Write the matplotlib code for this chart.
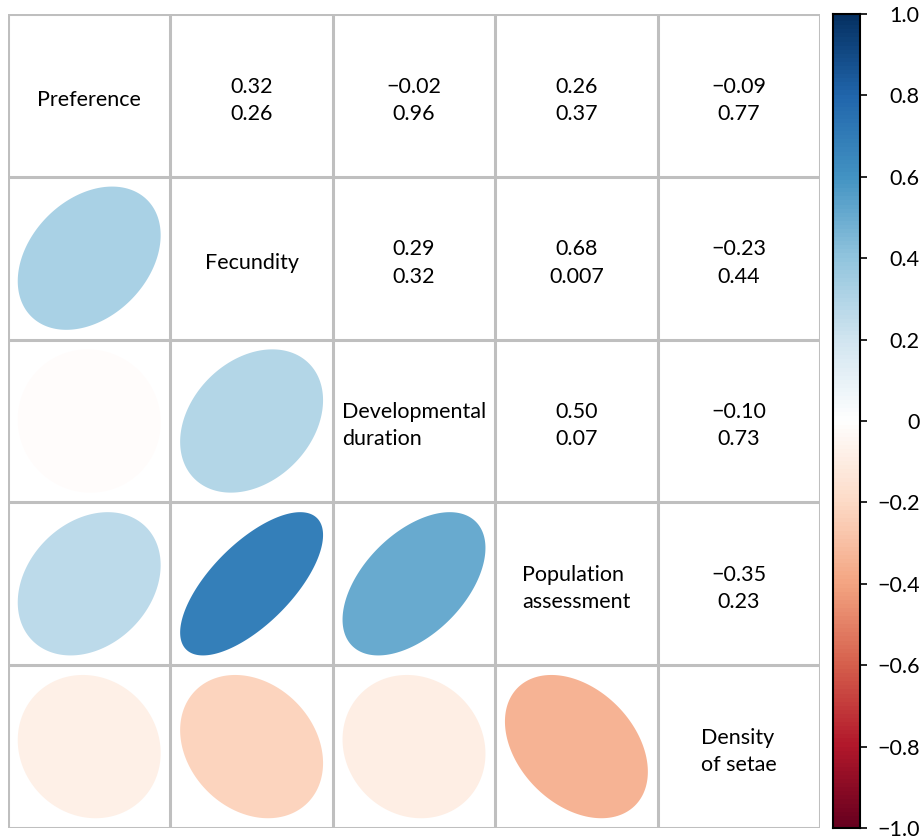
import numpy as np
import matplotlib
matplotlib.use("Agg")
import matplotlib.pyplot as plt
from matplotlib.patches import Polygon
from matplotlib.colors import Normalize, LinearSegmentedColormap

plt.rcParams['font.family'] = ['Lato', 'DejaVu Sans']

variables = ["Preference", "Fecundity", "Developmental\nduration",
             "Population\nassessment", "Density\nof setae"]

# correlation coefficients (upper triangle, row-major pairs)
pairs = [(0, 1), (0, 2), (0, 3), (0, 4), (1, 2), (1, 3), (1, 4), (2, 3), (2, 4), (3, 4)]
r_values = [0.32, -0.02, 0.26, -0.09, 0.29, 0.68, -0.23, 0.50, -0.10, -0.35]
r_labels = ["0.32", "\u22120.02", "0.26", "\u22120.09", "0.29", "0.68", "\u22120.23",
            "0.50", "\u22120.10", "\u22120.35"]
p_labels = ["0.26", "0.96", "0.37", "0.77", "0.32", "0.007", "0.44", "0.07", "0.73", "0.23"]

cbar_ticks = [-1.0, -0.8, -0.6, -0.4, -0.2, 0.0, 0.2, 0.4, 0.6, 0.8, 1.0]
cbar_labels = ["\u22121.0", "\u22120.8", "\u22120.6", "\u22120.4", "\u22120.2", "0",
               "0.2", "0.4", "0.6", "0.8", "1.0"]

# diverging red-white-blue palette
palette = ["#67001F", "#B2182B", "#D6604D", "#F4A582", "#FDDBC7", "#FFFFFF",
           "#D1E5F0", "#92C5DE", "#4393C3", "#2166AC", "#053061"]

n = len(variables)
cmap = LinearSegmentedColormap.from_list("rdbu2", palette, N=200)
norm = Normalize(-1, 1)

W, H = 921, 836
fig = plt.figure(figsize=(W / 100, H / 100), dpi=100)
ax = fig.add_axes([8 / W, (H - 828) / H, 812 / W, 814 / H])
ax.set_xlim(0, n)
ax.set_ylim(0, n)
ax.axis("off")

grid_col = "#bfbfbf"
for k in range(n + 1):
    ax.plot([k, k], [0, n], color=grid_col, lw=2.2, solid_capstyle="projecting", zorder=3)
    ax.plot([0, n], [k, k], color=grid_col, lw=2.2, solid_capstyle="projecting", zorder=3)


def ellipse_points(r, cx, cy, scale=0.44, m=200):
    t = np.linspace(0, 2 * np.pi, m)
    d = np.arccos(np.clip(r, -1, 1))
    x = np.cos(t + d / 2)
    y = np.cos(t - d / 2)
    return np.column_stack([cx + scale * x, cy + scale * y])


fs = 15.5
ls = 1.45
text_dy = -0.03  # text sits slightly below the cell centre
for (i, j), r, rl, pl in zip(pairs, r_values, r_labels, p_labels):
    # upper cell: coefficient and p-value
    cx, cy = j + 0.5, n - i - 0.5 + text_dy
    ax.text(cx, cy, rl + "\n" + pl, ha="center", va="center", fontsize=fs,
            linespacing=ls, multialignment="center")
    # lower cell: ellipse
    ex, ey = i + 0.5, n - j - 0.5
    ax.add_patch(Polygon(ellipse_points(r, ex, ey), closed=True,
                         facecolor=cmap(norm(r)), edgecolor="none", zorder=2))

for k, name in enumerate(variables):
    ax.text(k + 0.5, n - k - 0.5 + text_dy, name, ha="center", va="center", fontsize=fs,
            linespacing=ls, multialignment="left")

cax = fig.add_axes([833 / W, (H - 828) / H, 27 / W, 814 / H])
grad = np.linspace(-1, 1, 200).reshape(-1, 1)
cax.imshow(grad, aspect="auto", cmap=cmap, norm=norm, origin="lower",
           extent=[0, 1, -1, 1])
cax.set_xlim(0, 1)
cax.set_ylim(-1, 1)
cax.set_xticks([])
cax.yaxis.tick_right()
cax.set_yticks(cbar_ticks)
cax.set_yticklabels(cbar_labels, fontsize=fs)
cax.tick_params(axis="y", length=5, width=1.2, pad=38)
for lab in cax.get_yticklabels():
    lab.set_horizontalalignment("right")
for s in cax.spines.values():
    s.set_linewidth(1.5)

fig.savefig("out.png", dpi=100)
